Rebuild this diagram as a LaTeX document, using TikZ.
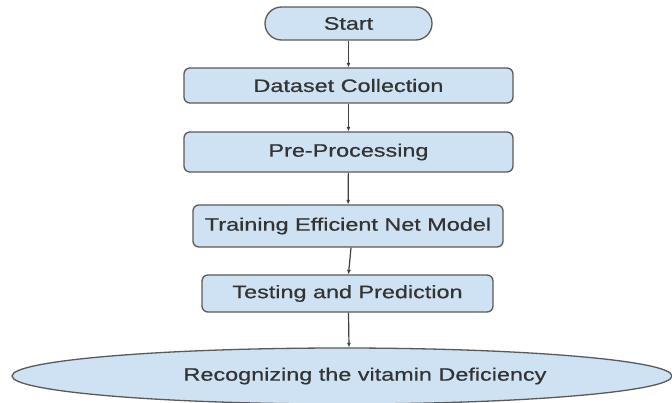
\documentclass[tikz,border=0pt]{standalone}
\usepackage{fontspec}
\setmainfont[FakeStretch=1.3,FakeBold=0.6]{Liberation Sans}
\usetikzlibrary{shapes.geometric,arrows.meta}
\definecolor{boxfill}{HTML}{CFE2F3}
\definecolor{boxline}{HTML}{5A5A5A}
\definecolor{txt}{HTML}{333333}
\definecolor{arr}{HTML}{404040}
\tikzset{
  base/.style={draw=boxline, fill=boxfill, line width=1.3pt, text=txt, font=\fontsize{18}{20}\selectfont, inner sep=0pt},
  procbox/.style={base, rectangle, rounded corners=6pt},
  startbox/.style={base, rectangle, rounded corners=16.5pt},
  endell/.style={base, ellipse},
  flow/.style={draw=arr, line width=1.2pt, -{Latex[length=4.5pt,width=4pt]}}
}
\begin{document}
\begin{tikzpicture}[x=1pt,y=-1pt]
\useasboundingbox[fill=white] (0,0) rectangle (672,402);
\node[startbox, minimum width=167pt, minimum height=33pt] (start) at (348.5,23.5) {Start};
\node[procbox, minimum width=329pt, minimum height=35pt] (data) at (348.5,85.5) {Dataset Collection};
\node[procbox, minimum width=329pt, minimum height=40pt] (pre) at (348.5,152) {Pre-Processing};
\node[procbox, minimum width=310pt, minimum height=42pt] (train) at (348,226) {Training Efficient Net Model};
\node[procbox, minimum width=291pt, minimum height=37pt] (test) at (347.5,293.5) {Testing and Prediction};
\node[endell, minimum width=660pt, minimum height=56pt] (rec) at (342,376) {\hspace*{46pt}Recognizing the vitamin Deficiency};
\draw[flow] (start) -- (data);
\draw[flow] (data) -- (pre);
\draw[flow] (pre) -- (train);
\draw[flow] ([xshift=3pt]train.south) -- ([xshift=1pt]test.north);
\draw[flow] ([xshift=1pt]test.south) -- ([xshift=7pt]rec.north);
\end{tikzpicture}
\end{document}
